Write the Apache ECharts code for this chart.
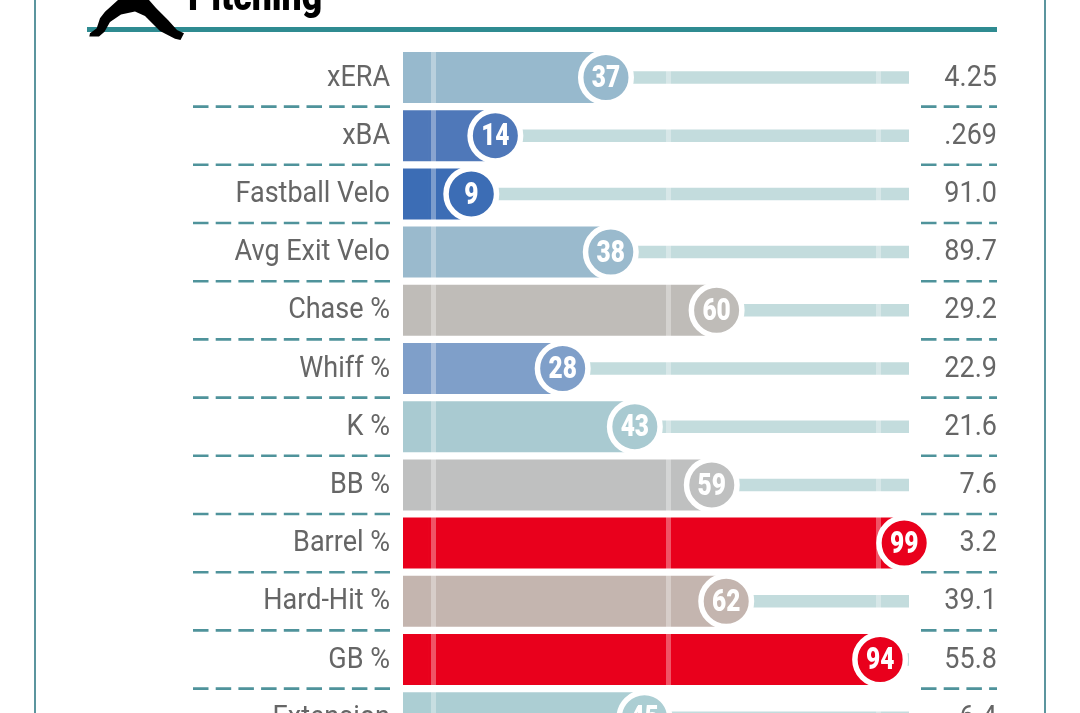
<!DOCTYPE html>
<html>
<head>
<meta charset="utf-8">
<style>html,body{margin:0;padding:0;background:#fff;overflow:hidden}#c{width:1080px;height:713px}</style>
<script src="https://cdn.jsdelivr.net/npm/echarts@6/dist/echarts.min.js"></script>
</head>
<body>
<div id="c"></div>
<script>
const metrics = ['xERA','xBA','Fastball Velo','Avg Exit Velo','Chase %','Whiff %','K %','BB %','Barrel %','Hard-Hit %','GB %','Extension'];
const percentiles = [37,14,9,38,60,28,43,59,99,62,94,45];
const statValues = ['4.25','.269','91.0','89.7','29.2','22.9','21.6','7.6','3.2','39.1','55.8','6.4'];
const rowColors = ['#97b9cd','#4f78b9','#3c6db5','#9abacd','#bfbcb8','#7f9fc9','#a9cad1','#bfc0c0','#e9001c','#c4b5af','#e9001c','#acced3'];
const tickMarks = [1,50,93.7];
const axisFloor = -5.2, axisMax = 100;

const FONT = 'Roboto';
const SQUEEZE = 0.9;
const TEAL = '#2f8b91', DASH = '#4f939b', TEXT = '#666666', TRACK = '#c3dcdd';

const chart = echarts.init(document.getElementById('c'), null, {renderer:'canvas', width:1080, height:713});

function squeezedText(text, x, y, align, size, weight, fill, sq){
  return {
    type:'text', x:x, y:y, scaleX:sq||SQUEEZE, scaleY:1,
    style:{text:text, x:0, y:0, align:align, verticalAlign:'middle',
      font: weight+' '+size+'px '+FONT, fill:fill}
  };
}

chart.setOption({
  animation:false,
  backgroundColor:'#ffffff',
  grid:{left:403, top:48.4, width:506, height:698.4, containLabel:false, outerBoundsMode:'none'},
  xAxis:{type:'value', min:axisFloor, max:axisMax, show:false, splitLine:{show:false}},
  yAxis:[
    {type:'category', data:metrics, inverse:true, show:false},
    {type:'category', data:metrics, inverse:true, show:false}
  ],
  graphic:[
    {type:'rect', shape:{x:34,y:0,width:2,height:713}, style:{fill:'#5b959e'}, z:20},
    {type:'rect', shape:{x:1044,y:0,width:2,height:713}, style:{fill:'#5b959e'}, z:20},
    {type:'rect', shape:{x:87,y:27,width:910,height:5}, style:{fill:TEAL}, z:20},
    {type:'polygon', z:21, shape:{points:[[118,0],[105,11.7],[100,18.3],[96.7,28.3],[90,33.3],[89.3,36.5],[99,36.5],[104.5,31.7],[110,22],[121,14.5],[135,11.5],[145,16],[160,31],[175,38.8],[180.5,40],[184,33.3],[177,30],[168,20],[156,8],[149,0]]}, style:{fill:'#000'}},
    {type:'text', z:21, x:188, y:0, scaleX:0.89, style:{text:'Pitching', x:0, y:0, align:'left', verticalAlign:'middle', font:'900 40px '+FONT, fill:'#000'}}
  ],
  series:[
    {type:'bar', name:'track', yAxisIndex:0, data:metrics.map(()=>axisMax), barWidth:12.5, itemStyle:{color:TRACK}, z:1, silent:true},
    {type:'bar', name:'floor', yAxisIndex:1, data:percentiles.map((v,i)=>({value:axisFloor, itemStyle:{color:rowColors[i]}})), barWidth:51, barGap:'-100%', z:2, silent:true},
    {type:'bar', name:'Percentile', yAxisIndex:1, data:percentiles.map((v,i)=>({value:v, itemStyle:{color:rowColors[i]}})), barWidth:51, barGap:'-100%', z:2, silent:true,
      markLine:{silent:true, symbol:'none', z:5, label:{show:false}, lineStyle:{color:'#ffffff', opacity:0.33, width:5, type:'solid'},
        data:tickMarks.map(t=>({xAxis:t}))}},
    {type:'scatter', name:'badge', yAxisIndex:0, data:percentiles.map((v,i)=>({value:[v,i], itemStyle:{color:rowColors[i]}})), symbol:'circle', symbolSize:50.5, itemStyle:{borderColor:'#fff', borderWidth:5.5, opacity:1}, z:10, silent:true},
    {type:'custom', name:'rowText', yAxisIndex:0, coordinateSystem:'cartesian2d', clip:false, z:12, silent:true,
      data:percentiles.map((v,i)=>[v,i]),
      encode:{x:0,y:1},
      renderItem:function(params,api){
        const i = params.dataIndex;
        const p = api.coord([api.value(0), i]);
        const band = api.size([0,1])[1];
        const lineY = p[1]+band/2;
        const dash = (x1,x2)=>({type:'line', shape:{x1:x1,y1:lineY,x2:x2,y2:lineY}, style:{stroke:DASH, lineWidth:2.6, lineDash:[15.5,7.2], fill:null}});
        return {type:'group', children:[
          squeezedText(metrics[i], 390, p[1]+0.5, 'right', 30, 400, TEXT),
          squeezedText(statValues[i], 997, p[1]+0.5, 'right', 30, 400, TEXT),
          squeezedText(String(percentiles[i]), p[0], p[1]+2, 'center', 31, 900, '#ffffff', 0.79),
          dash(193,390), dash(921,997)
        ]};
      }
    }
  ]
});
</script>
</body>
</html>
